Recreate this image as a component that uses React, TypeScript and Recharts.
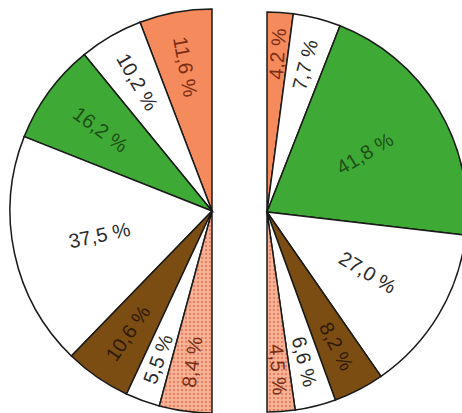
import React from 'react';
import { PieChart, Pie, Cell } from 'recharts';

// segment order, top to bottom, same for both halves
const categories = ['orange', 'white1', 'green', 'white2', 'brown', 'white3', 'dotted'];
const leftValues = [11.6, 10.2, 16.2, 37.5, 10.6, 5.5, 8.4];
const rightValues = [4.2, 7.7, 41.8, 27.0, 8.2, 6.6, 4.5];

const fills: Record<string, string> = {
  orange: '#f58a5c',
  white1: '#ffffff',
  green: '#3fa936',
  white2: '#ffffff',
  brown: '#7b4d12',
  white3: '#ffffff',
  dotted: 'url(#dots)',
};

const textColors: Record<string, string> = {
  orange: '#7a2e16',
  white1: '#2a2a2a',
  green: '#1d4f16',
  white2: '#2a2a2a',
  brown: '#2e1a05',
  white3: '#2a2a2a',
  dotted: '#7a2e16',
};

const leftData = categories.map((c, i) => ({ name: c, value: leftValues[i] }));
const rightData = categories.map((c, i) => ({ name: c, value: rightValues[i] }));

const RADIAN = Math.PI / 180;

const makeLabel = (side: 'left' | 'right') => (props: any) => {
  const { cx, cy, midAngle, outerRadius, percent, value, payload } = props;
  const share = percent * 100;
  // thin slices get their label further out
  const r = outerRadius * Math.max(0.57, 0.83 - 0.009 * share);
  const x = cx + r * Math.cos(-midAngle * RADIAN);
  const y = cy + r * Math.sin(-midAngle * RADIAN);
  const rot = side === 'right' ? -midAngle : 180 - midAngle;
  const name = payload?.name ?? props.name;
  return (
    <text
      x={x}
      y={y}
      transform={`rotate(${rot} ${x} ${y})`}
      textAnchor="middle"
      dominantBaseline="central"
      fontFamily="'Liberation Sans', Arial, sans-serif"
      fontSize={20}
      fill={textColors[name]}
    >
      {Number(value).toFixed(1).replace('.', ',') + ' %'}
    </text>
  );
};

export default function App() {
  return (
    <div style={{ position: 'absolute', left: 0, top: 0, background: '#fff' }}>
      <PieChart width={462} height={413}>
        <defs>
          <pattern id="dots" width="4" height="4" patternUnits="userSpaceOnUse">
            <rect width="4" height="4" fill="#f7b195" />
            <circle cx="2" cy="2" r="0.9" fill="#e0694c" />
          </pattern>
        </defs>
        <Pie
          data={leftData}
          dataKey="value"
          cx={207}
          cy={206}
          outerRadius={202}
          startAngle={90}
          endAngle={270}
          stroke="#1a1a1a"
          strokeWidth={1.5}
          labelLine={false}
          label={makeLabel('left')}
          isAnimationActive={false}
        >
          {leftData.map((d) => (
            <Cell key={d.name} fill={fills[d.name]} />
          ))}
        </Pie>
        <Pie
          data={rightData}
          dataKey="value"
          cx={262}
          cy={207}
          outerRadius={200}
          startAngle={90}
          endAngle={-90}
          stroke="#1a1a1a"
          strokeWidth={1.5}
          labelLine={false}
          label={makeLabel('right')}
          isAnimationActive={false}
        >
          {rightData.map((d) => (
            <Cell key={d.name} fill={fills[d.name]} />
          ))}
        </Pie>
      </PieChart>
    </div>
  );
}
